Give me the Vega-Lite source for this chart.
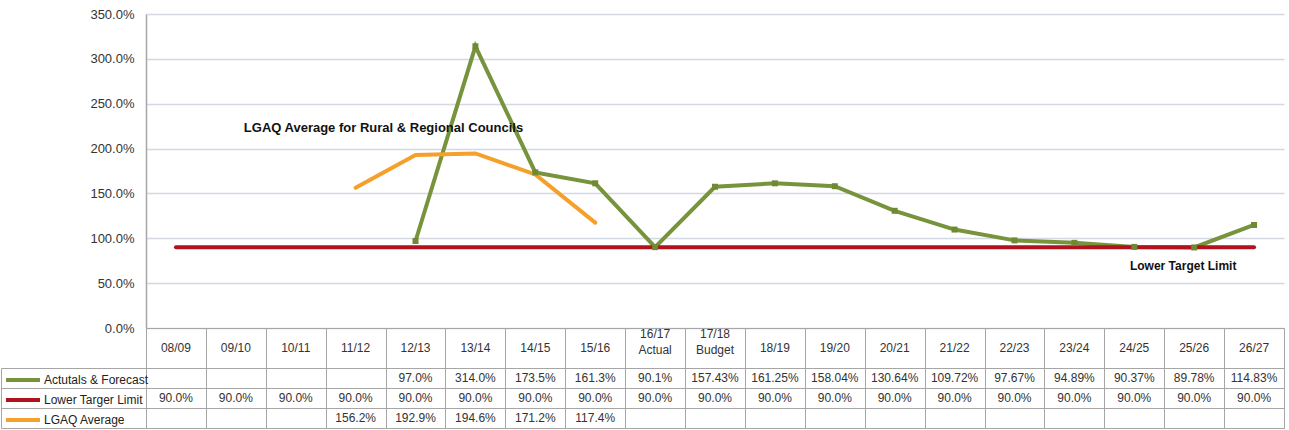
{
  "$schema": "https://vega.github.io/schema/vega-lite/v6.json",
  "background": "white",
  "padding": {"left": 0, "top": 8, "right": 4, "bottom": 0},
  "bounds": "flush",
  "spacing": 0,
  "config": {"font": "Liberation Sans", "view": {"stroke": null}},
  "resolve": {"scale": {"x": "independent", "y": "independent", "color": "shared"}},
  "datasets": {
    "fin": [
      {"period": "12/13", "series": "Actutals & Forecast", "value": 97.0, "label": "97.0%"},
      {"period": "13/14", "series": "Actutals & Forecast", "value": 314.0, "label": "314.0%"},
      {"period": "14/15", "series": "Actutals & Forecast", "value": 173.5, "label": "173.5%"},
      {"period": "15/16", "series": "Actutals & Forecast", "value": 161.3, "label": "161.3%"},
      {"period": "16/17\nActual", "series": "Actutals & Forecast", "value": 90.1, "label": "90.1%"},
      {"period": "17/18\nBudget", "series": "Actutals & Forecast", "value": 157.43, "label": "157.43%"},
      {"period": "18/19", "series": "Actutals & Forecast", "value": 161.25, "label": "161.25%"},
      {"period": "19/20", "series": "Actutals & Forecast", "value": 158.04, "label": "158.04%"},
      {"period": "20/21", "series": "Actutals & Forecast", "value": 130.64, "label": "130.64%"},
      {"period": "21/22", "series": "Actutals & Forecast", "value": 109.72, "label": "109.72%"},
      {"period": "22/23", "series": "Actutals & Forecast", "value": 97.67, "label": "97.67%"},
      {"period": "23/24", "series": "Actutals & Forecast", "value": 94.89, "label": "94.89%"},
      {"period": "24/25", "series": "Actutals & Forecast", "value": 90.37, "label": "90.37%"},
      {"period": "25/26", "series": "Actutals & Forecast", "value": 89.78, "label": "89.78%"},
      {"period": "26/27", "series": "Actutals & Forecast", "value": 114.83, "label": "114.83%"},
      {"period": "08/09", "series": "Lower Targer Limit", "value": 90.0, "label": "90.0%"},
      {"period": "09/10", "series": "Lower Targer Limit", "value": 90.0, "label": "90.0%"},
      {"period": "10/11", "series": "Lower Targer Limit", "value": 90.0, "label": "90.0%"},
      {"period": "11/12", "series": "Lower Targer Limit", "value": 90.0, "label": "90.0%"},
      {"period": "12/13", "series": "Lower Targer Limit", "value": 90.0, "label": "90.0%"},
      {"period": "13/14", "series": "Lower Targer Limit", "value": 90.0, "label": "90.0%"},
      {"period": "14/15", "series": "Lower Targer Limit", "value": 90.0, "label": "90.0%"},
      {"period": "15/16", "series": "Lower Targer Limit", "value": 90.0, "label": "90.0%"},
      {"period": "16/17\nActual", "series": "Lower Targer Limit", "value": 90.0, "label": "90.0%"},
      {"period": "17/18\nBudget", "series": "Lower Targer Limit", "value": 90.0, "label": "90.0%"},
      {"period": "18/19", "series": "Lower Targer Limit", "value": 90.0, "label": "90.0%"},
      {"period": "19/20", "series": "Lower Targer Limit", "value": 90.0, "label": "90.0%"},
      {"period": "20/21", "series": "Lower Targer Limit", "value": 90.0, "label": "90.0%"},
      {"period": "21/22", "series": "Lower Targer Limit", "value": 90.0, "label": "90.0%"},
      {"period": "22/23", "series": "Lower Targer Limit", "value": 90.0, "label": "90.0%"},
      {"period": "23/24", "series": "Lower Targer Limit", "value": 90.0, "label": "90.0%"},
      {"period": "24/25", "series": "Lower Targer Limit", "value": 90.0, "label": "90.0%"},
      {"period": "25/26", "series": "Lower Targer Limit", "value": 90.0, "label": "90.0%"},
      {"period": "26/27", "series": "Lower Targer Limit", "value": 90.0, "label": "90.0%"},
      {"period": "11/12", "series": "LGAQ Average", "value": 156.2, "label": "156.2%"},
      {"period": "12/13", "series": "LGAQ Average", "value": 192.9, "label": "192.9%"},
      {"period": "13/14", "series": "LGAQ Average", "value": 194.6, "label": "194.6%"},
      {"period": "14/15", "series": "LGAQ Average", "value": 171.2, "label": "171.2%"},
      {"period": "15/16", "series": "LGAQ Average", "value": 117.4, "label": "117.4%"}
    ],
    "notes": [
      {"period": "09/10", "value": 223, "text": "LGAQ Average for Rural & Regional Councils"},
      {"period": "25/26", "value": 69, "text": "Lower Target Limit"}
    ]
  },
  "vconcat": [
    {
      "width": 1138,
      "height": 314,
      "layer": [
        {
          "data": {"name": "fin"},
          "mark": {"type": "line", "strokeWidth": 4, "strokeJoin": "miter", "strokeCap": "round"},
          "encoding": {
            "x": {"field": "period", "type": "ordinal", "scale": {"type": "point", "padding": 0.5, "domain": ["08/09","09/10","10/11","11/12","12/13","13/14","14/15","15/16","16/17\nActual","17/18\nBudget","18/19","19/20","20/21","21/22","22/23","23/24","24/25","25/26","26/27"]}, "axis": null},
            "y": {"field": "value", "type": "quantitative", "scale": {"domain": [0, 350], "nice": false, "zero": true},
              "axis": {"values": [0, 50, 100, 150, 200, 250, 300, 350], "labelExpr": "format(datum.value, '.1f') + '%'", "title": null, "ticks": false, "labelPadding": 12, "labelFontSize": 13, "labelColor": "#333333", "domainColor": "#a6a6a6", "domainWidth": 1.5, "gridColor": "#d3d8e3", "gridWidth": 1.5}},
            "color": {"field": "series", "type": "nominal",
              "scale": {"domain": ["Actutals & Forecast", "Lower Targer Limit", "LGAQ Average"], "range": ["#77933c", "#b0131e", "#f5a02a"]},
              "legend": {"orient": "none", "legendX": -135, "legendY": 354, "title": null, "symbolType": "M-1.7,0H1.7", "symbolSize": 400, "symbolStrokeWidth": 4, "labelFontSize": 12, "labelColor": "#222222", "rowPadding": 0, "labelOffset": 9, "padding": 0}},
            "detail": {"field": "series"}
          }
        },
        {
          "data": {"name": "fin"},
          "transform": [{"filter": "datum.series == 'Actutals & Forecast'"}],
          "mark": {"type": "point", "shape": "square", "filled": true, "size": 36, "opacity": 1, "color": "#6f8a32"},
          "encoding": {
            "x": {"field": "period", "type": "ordinal"},
            "y": {"field": "value", "type": "quantitative"}
          }
        },
        {
          "data": {"name": "notes"},
          "transform": [{"filter": "datum.period == '09/10'"}],
          "mark": {"type": "text", "fontWeight": "bold", "fontSize": 13, "color": "#111111", "align": "left", "dx": 8},
          "encoding": {
            "x": {"field": "period", "type": "ordinal"},
            "y": {"field": "value", "type": "quantitative"},
            "text": {"field": "text"}
          }
        },
        {
          "data": {"name": "notes"},
          "transform": [{"filter": "datum.period == '25/26'"}],
          "mark": {"type": "text", "fontWeight": "bold", "fontSize": 12, "color": "#111111", "align": "center", "dx": -11},
          "encoding": {
            "x": {"field": "period", "type": "ordinal"},
            "y": {"field": "value", "type": "quantitative"},
            "text": {"field": "text"}
          }
        }
      ]
    },
    {
      "width": 1138,
      "height": 40,
      "data": {"name": "fin"},
      "transform": [{"filter": "datum.series == 'Lower Targer Limit'"}],
      "encoding": {
        "x": {"field": "period", "type": "nominal", "sort": null, "scale": {"domain": ["08/09","09/10","10/11","11/12","12/13","13/14","14/15","15/16","16/17\nActual","17/18\nBudget","18/19","19/20","20/21","21/22","22/23","23/24","24/25","25/26","26/27"], "paddingInner": 0, "paddingOuter": 0},
          "axis": {"grid": true, "tickBand": "extent", "gridColor": "#a6a6a6", "labels": false, "ticks": false, "domain": false, "title": null}},
        "text": {"field": "period"}
      },
      "layer": [
        {
          "transform": [{"filter": "indexof(datum.period, '\\n') < 0"}],
          "mark": {"type": "text", "fontSize": 12, "color": "#333333"}
        },
        {
          "transform": [{"filter": "indexof(datum.period, '\\n') >= 0"}],
          "mark": {"type": "text", "lineBreak": "\n", "fontSize": 12, "lineHeight": 16, "dy": -14, "color": "#333333"}
        }
      ],
      "view": {"stroke": "#a6a6a6"}
    },
    {
      "width": 1138,
      "height": 60,
      "data": {"name": "fin"},
      "mark": {"type": "text", "fontSize": 12, "color": "#333333"},
      "encoding": {
        "x": {"field": "period", "type": "nominal", "sort": null, "scale": {"domain": ["08/09","09/10","10/11","11/12","12/13","13/14","14/15","15/16","16/17\nActual","17/18\nBudget","18/19","19/20","20/21","21/22","22/23","23/24","24/25","25/26","26/27"], "paddingInner": 0, "paddingOuter": 0},
          "axis": {"grid": true, "tickBand": "extent", "gridColor": "#a6a6a6", "labels": false, "ticks": false, "domain": false, "title": null}},
        "y": {"field": "series", "type": "nominal", "scale": {"domain": ["Actutals & Forecast", "Lower Targer Limit", "LGAQ Average"], "paddingInner": 0, "paddingOuter": 0},
          "axis": {"grid": true, "tickBand": "extent", "gridColor": "#a6a6a6", "labels": false, "ticks": true, "tickSize": -145, "offset": 145, "tickColor": "#a6a6a6", "domainColor": "#a6a6a6", "title": null}},
        "text": {"field": "label"}
      },
      "view": {"stroke": "#a6a6a6"}
    }
  ]
}
